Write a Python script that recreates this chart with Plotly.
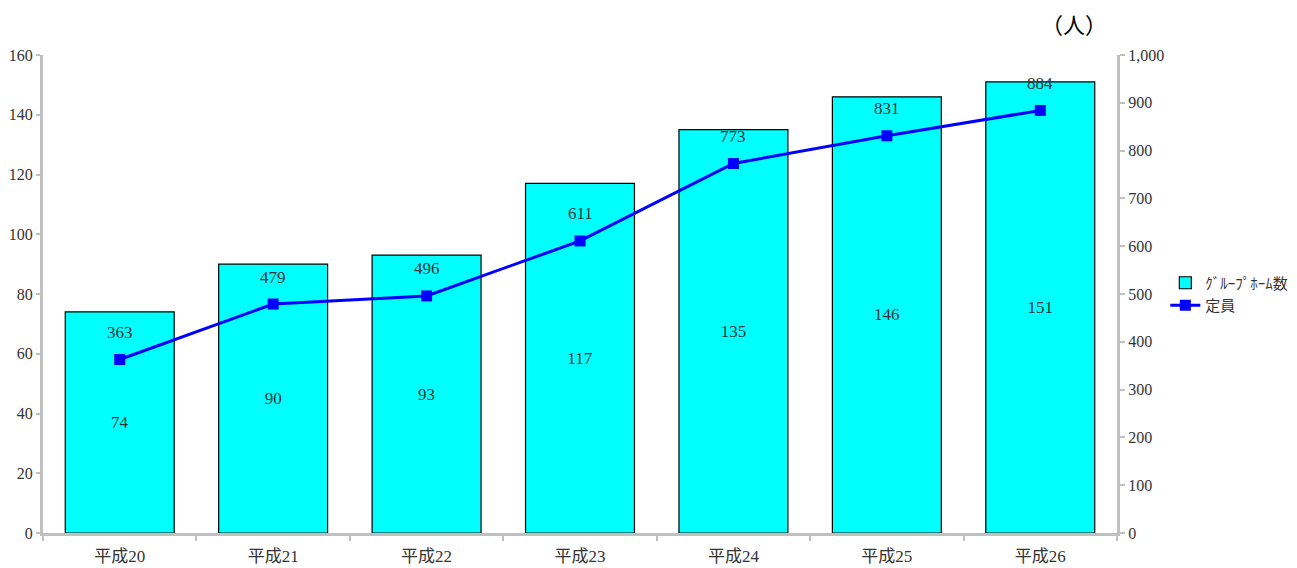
import plotly.graph_objects as go

categories = ["平成20", "平成21", "平成22", "平成23", "平成24", "平成25", "平成26"]
homes = [74, 90, 93, 117, 135, 146, 151]
capacity = [363, 479, 496, 611, 773, 831, 884]

FONT = "Liberation Serif, Noto Sans CJK JP, serif"
TXT = "#333333"
AX = "#c0c0c0"

fig = go.Figure()
fig.add_trace(go.Bar(
    x=categories, y=homes, name="ｸﾞﾙｰﾌﾟﾎｰﾑ数",
    marker=dict(color="#00ffff", line=dict(color="black", width=1.2)),
    width=0.71,
    text=[str(v) for v in homes], textposition="inside", insidetextanchor="middle",
    textfont=dict(family=FONT, size=17, color=TXT),
    yaxis="y",
))
fig.add_trace(go.Scatter(
    x=categories, y=capacity, name="定員", mode="lines+markers",
    line=dict(color="#0000ff", width=3),
    marker=dict(symbol="square", size=11, color="#0000ff"),
    yaxis="y2",
))
for c, v in zip(categories, capacity):
    fig.add_annotation(x=c, y=v, xref="x", yref="y2", text=f"{v:,}", showarrow=False,
                       yshift=27, font=dict(family=FONT, size=17, color=TXT))

fig.add_annotation(x=1.0, y=1.0, xref="paper", yref="paper", xanchor="center", yanchor="middle",
                   xshift=-43, yshift=32, text="（人）", showarrow=False,
                   font=dict(family="Noto Sans CJK JP", size=22, color="black"))

fig.update_layout(
    width=1289, height=560,
    margin=dict(l=35, r=180, t=47, b=35, autoexpand=False),
    plot_bgcolor="white", paper_bgcolor="white",
    font=dict(family=FONT, size=16, color=TXT),
    xaxis=dict(showline=True, linecolor=AX, linewidth=3, ticks="outside", tickson="boundaries",
               tickcolor=AX, tickwidth=2, ticklen=5, showgrid=False, automargin=False,
               ticklabelstandoff=6,
               tickfont=dict(family=FONT, size=17, color=TXT)),
    yaxis=dict(range=[0, 160], dtick=20, showline=True, linecolor=AX, linewidth=3,
               ticks="outside", tickcolor=AX, tickwidth=2, ticklen=4, showgrid=False,
               zeroline=False, automargin=False, tickfont=dict(family=FONT, size=16, color=TXT)),
    yaxis2=dict(range=[0, 1000], dtick=100, overlaying="y", side="right", showline=True,
                linecolor=AX, linewidth=3, ticks="outside", tickcolor=AX, tickwidth=2, ticklen=5,
                showgrid=False, zeroline=False, tickformat=",", automargin=False,
                tickfont=dict(family=FONT, size=16, color=TXT)),
    legend=dict(x=1.045, y=0.5, xanchor="left", yanchor="middle", bgcolor="rgba(0,0,0,0)",
                font=dict(family="Noto Sans CJK JP", size=15, color=TXT), tracegroupgap=12),
    showlegend=True,
)
fig.write_html("out.html")
